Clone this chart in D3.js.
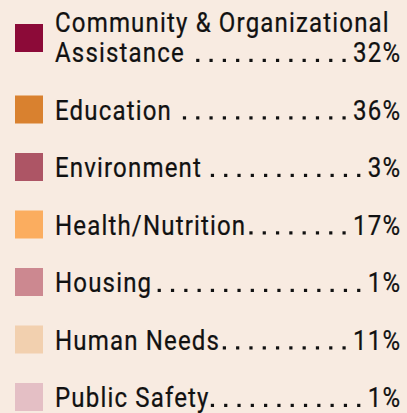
<!DOCTYPE html>
<html>
<head>
<meta charset="utf-8">
<script src="https://cdn.jsdelivr.net/npm/d3@7"></script>
<style>
  html, body { margin: 0; padding: 0; background: #f8ebe1; }
  svg { display: block; }
  text { font-family: Roboto, "Liberation Sans", sans-serif; font-weight: 400; letter-spacing: 1.3px; fill: #111; stroke: #111; stroke-width: 0.25px; }
</style>
</head>
<body>
<svg id="legend"></svg>
<script>
var categories = [
    ["Community & Organizational", "Assistance"],
    ["Education"],
    ["Environment"],
    ["Health/Nutrition"],
    ["Housing"],
    ["Human Needs"],
    ["Public Safety"]
];
var shares = [32, 36, 3, 17, 1, 11, 1];
var colors = ["#8c0a38", "#d9812f", "#ad5565", "#fbad5f", "#cc8890", "#f2d0af", "#e4bfc5"];

var dim = { width: 407, height: 413, left: 15, textX: 55, right: 400, sq: 28 };
var fontSize = 26.8, lineGap = 30, dotStep = 13.3, tracking = 1.3;

var svg = d3.select('#legend')
    .attr('width', dim.width)
    .attr('height', dim.height);

// condense the font horizontally so the longest line fits like the original
var probe = svg.append('text').attr('font-size', fontSize).text(categories[0][0]);
var squeeze = 335 / probe.node().getComputedTextLength();
probe.remove();

// baseline of the last label line for each row
var yScale = d3.scaleLinear()
    .domain([0, categories.length - 1])
    .range([62, 407]);

var rows = svg.selectAll('g.row')
    .data(categories)
    .enter().append('g')
    .attr('class', 'row')
    .attr('transform', function(d, i) { return 'translate(0,' + yScale(i) + ')'; });

rows.append('rect')
    .attr('x', dim.left)
    .attr('y', function(d) { return d.length > 1 ? -38 : -24; })
    .attr('width', dim.sq)
    .attr('height', dim.sq)
    .attr('fill', function(d, i) { return colors[i]; });

function addText(g, x, y, str, anchor) {
    var t = g.append('text')
        .attr('transform', 'translate(' + x + ',' + y + ') scale(' + squeeze + ',1)')
        .attr('text-anchor', anchor)
        .attr('font-size', fontSize)
        .text(str);
    return t.node().getComputedTextLength() * squeeze;
}

rows.each(function(lines, i) {
    var g = d3.select(this);
    var lastWidth = 0;
    lines.forEach(function(line, j) {
        lastWidth = addText(g, dim.textX, (j - lines.length + 1) * lineGap, line, 'start');
    });
    // trailing letter-spacing would push the % left of the edge
    var pctWidth = addText(g, dim.right + tracking * squeeze, 0, shares[i] + '%', 'end');
    var textEnd = dim.textX + lastWidth - tracking * squeeze;
    var pctStart = dim.right - pctWidth + tracking * squeeze;
    var dots = [];
    for (var x = pctStart - 9; x > textEnd + 4; x -= dotStep) dots.push(x);
    g.selectAll('rect.dot')
        .data(dots)
        .enter().append('rect')
        .attr('class', 'dot')
        .attr('x', function(d) { return d - 1.6; })
        .attr('y', -3.2)
        .attr('width', 3.2)
        .attr('height', 3.2)
        .attr('fill', '#111');
});
</script>
</body>
</html>
